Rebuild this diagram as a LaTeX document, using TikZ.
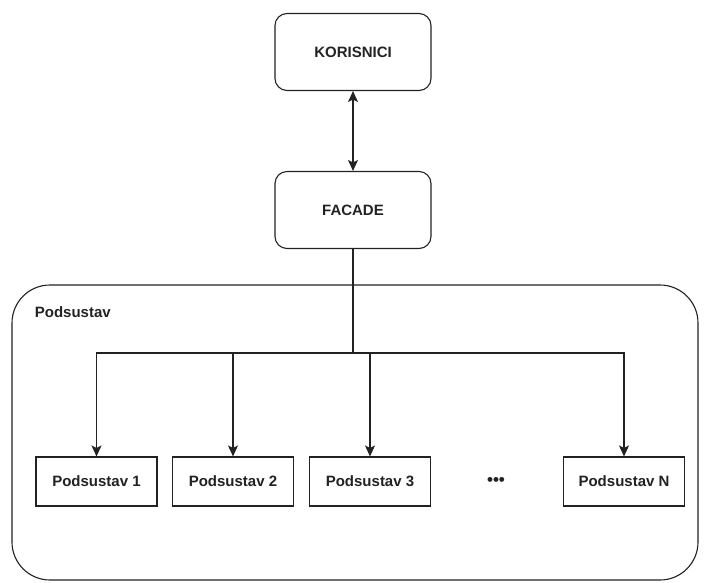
\documentclass[tikz,border=0pt]{standalone}
\usepackage{fontspec}
\setmainfont{Liberation Sans}
\usetikzlibrary{arrows.meta}
\definecolor{ln}{HTML}{222222}
\begin{document}
\begin{tikzpicture}[x=1pt,y=-1pt,
  line width=1.1pt, draw=ln,
  every node/.style={font=\fontsize{15}{18}\selectfont\bfseries, text=ln},
  rbox/.style={draw=ln, rounded corners=12pt, minimum width=156pt, minimum height=77pt, inner sep=0pt},
  sbox/.style={draw=ln, minimum width=121pt, minimum height=49pt, inner sep=0pt},
  arr/.style={-{Stealth[length=11pt,width=10pt,inset=2.5pt]}},
  darr/.style={{Stealth[length=11pt,width=10pt,inset=2.5pt]}-{Stealth[length=11pt,width=10pt,inset=2.5pt]}}]
\useasboundingbox (0,0) rectangle (704,582);
\draw[rounded corners=38pt] (12,285) rectangle (698,580);
\node[anchor=west] (lbl) at (31,312) {Podsustav};
\node[rbox] (kor) at (353,52) {KORISNICI};
\node[rbox] (fac) at (353,210) {FACADE};
\draw[darr] (kor.south) -- (fac.north);
\node[sbox] (p1) at (96.5,481.5) {Podsustav 1};
\node[sbox] (p2) at (233,481.5) {Podsustav 2};
\node[sbox] (p3) at (370,481.5) {Podsustav 3};
\node[sbox] (pn) at (624,481.5) {Podsustav N};
\node (dots) at (496,481) {\fontsize{17}{17}\selectfont •••};
\coordinate (j) at (353,353);
\draw (fac.south) -- (j);
\draw[arr] (j) -| (p1.north);
\draw[arr] (j) -| (p2.north);
\draw[arr] (j) -| (p3.north);
\draw[arr] (j) -| (pn.north);
\end{tikzpicture}
\end{document}
